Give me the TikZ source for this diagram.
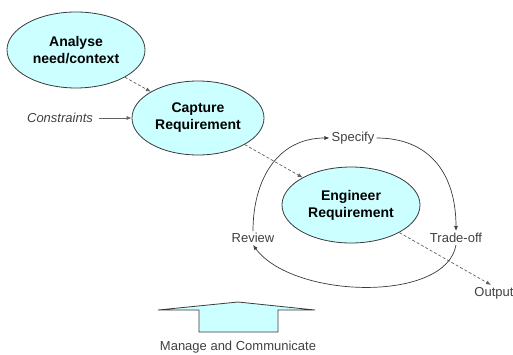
\documentclass[tikz,border=0pt]{standalone}
\usepackage{fontspec}
\setmainfont{Liberation Sans}
\usetikzlibrary{arrows.meta,shapes.geometric}
\definecolor{cyanfill}{HTML}{CCFFFF}
\definecolor{linegray}{HTML}{3A3A3A}
\definecolor{txtgray}{HTML}{404040}
\tikzset{
  bubble/.style={ellipse, draw=linegray, line width=0.8pt, fill=cyanfill,
    minimum width=#1, minimum height=76pt, inner sep=0pt, align=center,
    font=\fontsize{14}{17}\selectfont\bfseries},
  lbl/.style={text=txtgray, font=\fontsize{13}{15}\selectfont, inner sep=2pt},
  tip/.style={-{Latex[length=5pt,width=4pt]}},
  dashlink/.style={tip, draw=linegray!80, line width=0.7pt, dash pattern=on 3pt off 2pt},
  arcline/.style={tip, draw=linegray, line width=0.7pt},
}
\begin{document}
\begin{tikzpicture}[x=1pt,y=1pt]
\useasboundingbox (0,0) rectangle (513,354);
\node[bubble=138pt] (ana) at (76,304) {Analyse\\need/context};
\node[bubble=132pt, minimum height=74pt] (cap) at (198,236) {Capture\\Requirement};
\node[bubble=138pt] (eng) at (351,149) {Engineer\\Requirement};
\node[lbl, font=\fontsize{13}{15}\selectfont\itshape] (con) at (60,236) {Constraints};
\node[lbl] (spec) at (353,216) {Specify};
\node[lbl] (rev) at (253,116) {Review};
\node[lbl] (trade) at (456,116) {Trade-off};
\node[lbl] (out) at (494,61) {Output};
\node[lbl] (man) at (238,7) {Manage and Communicate};

\draw[dashlink] (ana) -- (cap);
\draw[dashlink] (cap) -- (eng);
\draw[dashlink] (eng) -- ([xshift=-3pt]out.north);
\draw[tip, draw=linegray!80, line width=0.7pt] (con.east) ++(4,0) -- (cap.west);

\draw[arcline] (rev.north) to[out=90, in=180, looseness=1.1] (spec.west);
\draw[arcline] (spec.east) to[out=0, in=90, looseness=1.15] (trade.north);
\draw[arcline] (trade.south) .. controls +(-10,-58) and +(40,-54) .. (rev.south);

\draw[draw=linegray, line width=0.8pt, fill=cyanfill]
  (158,44) -- (238,52) -- (315,44) -- (278,44) -- (278,22) -- (199,22) -- (199,44) -- cycle;
\end{tikzpicture}
\end{document}
